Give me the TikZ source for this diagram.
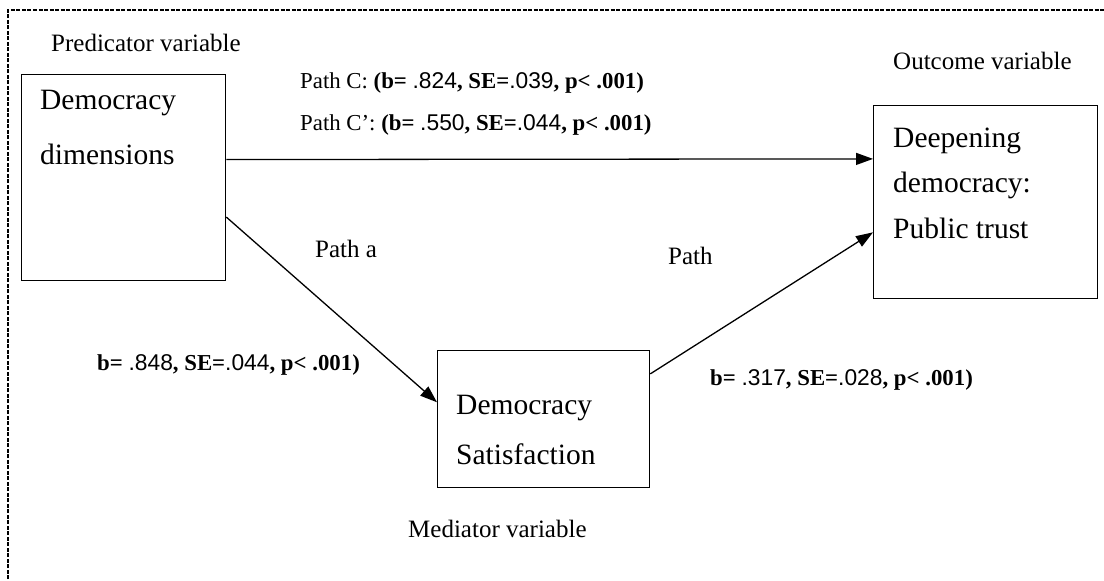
\documentclass[tikz,border=0pt]{standalone}
\usepackage{fontspec}
\setmainfont{Liberation Serif}
\newfontfamily\arialf{Liberation Sans}
\usetikzlibrary{arrows.meta}
\newcommand{\num}[1]{{\arialf\mdseries #1}}
\begin{document}
\begin{tikzpicture}[x=1pt,y=-1pt,
  box/.style={draw, line width=1.3pt, inner sep=0pt, anchor=north west},
  lbl/.style={anchor=base west, inner sep=0pt, font=\fontsize{25}{30}\selectfont},
  big/.style={anchor=base west, inner sep=0pt, font=\fontsize{29.5}{34}\selectfont},
  stat/.style={anchor=base west, inner sep=0pt, font=\fontsize{22.8}{27}\selectfont},
  arr/.style={-{Triangle[length=17pt,width=12pt]}, line width=1.3pt},
  frame/.style={line width=1.5pt, dash pattern=on 4pt off 1.5pt}]
\useasboundingbox (0,0) rectangle (1104,581);
\draw[frame] (8,590) -- (8,10) -- (1110,10);
% boxes
\node[box, minimum width=204pt, minimum height=206pt] (A) at (21,74) {};
\node[box, minimum width=224pt, minimum height=193pt] (C) at (873,105) {};
\node[box, minimum width=212pt, minimum height=137pt] (B) at (437,350) {};
% box texts
\node[big] (a1) at (40,109) {Democracy};
\node[big] (a2) at (40,164) {dimensions};
\node[big] (c1) at (893,147) {Deepening};
\node[big] (c2) at (893,192) {democracy:};
\node[big] (c3) at (893,238) {Public trust};
\node[big] (b1) at (456,414) {Democracy};
\node[big] (b2) at (456,464) {Satisfaction};
% labels
\node[lbl] (pv) at (51,51) {Predicator variable};
\node[lbl] (ov) at (893,69) {Outcome variable};
\node[lbl] (mv) at (408,537) {Mediator variable};
\node[lbl] (pa) at (315,257) {Path a};
\node[lbl] (pb) at (668,264) {Path};
\node[stat] (pc) at (300,88) {Path C: \textbf{(b= \num{.824}, SE=\num{.039}, p< .001)}};
\node[stat] (pc2) at (300,130) {Path C’:\ \textbf{(b= \num{.550}, SE=\num{.044}, p< .001)}};
\node[stat] (sa) at (97,370) {\textbf{b= \num{.848}, SE=\num{.044}, p< .001)}};
\node[stat] (sb) at (710,385) {\textbf{b= \num{.317}, SE=\num{.028}, p< .001)}};
% connectors
\draw[arr] (A.10) -- (C.159);
\draw[arr] (A.-21.9) -- (B.171.2);
\draw[arr] (B.23.7) -- (C.195.5);
\end{tikzpicture}
\end{document}
